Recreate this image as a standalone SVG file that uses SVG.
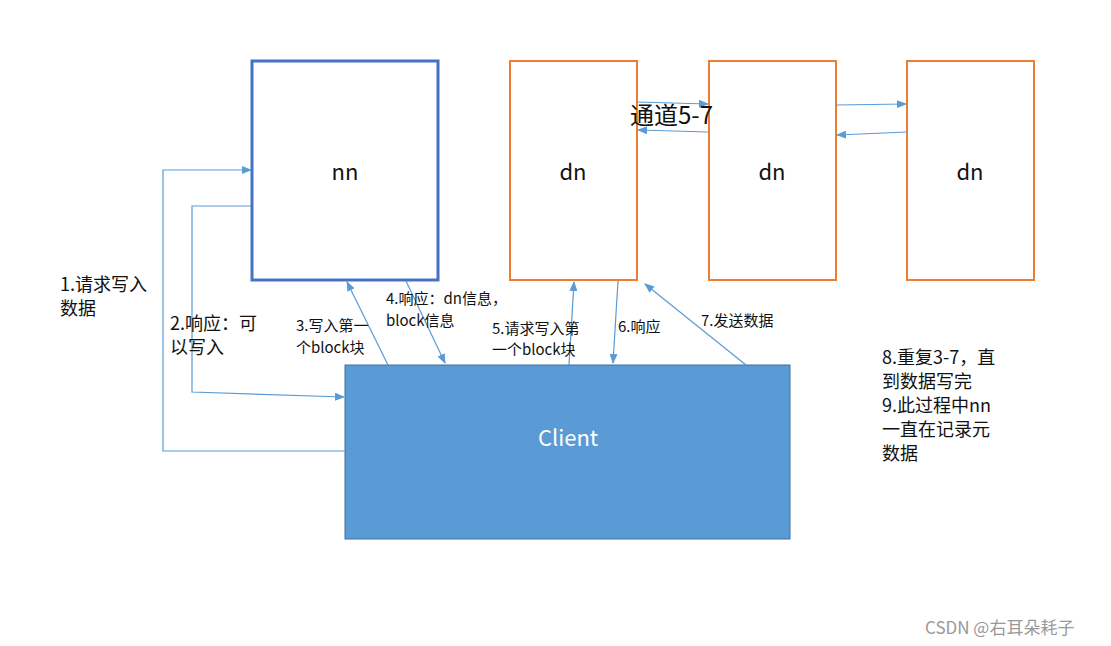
<svg xmlns="http://www.w3.org/2000/svg" width="1111" height="646" viewBox="0 0 1111 646">
<style>
text{font-family:"Noto Sans CJK SC","Noto Sans",sans-serif;fill:#111}
.c{stroke:#5b9bd5;stroke-width:1.2;fill:none;marker-end:url(#a)}
.l{font-size:15px}
.s{font-size:18px}
.dn{fill:#fff;stroke:#ed7d31;stroke-width:2}
</style>
<defs><marker id="a" markerWidth="10" markerHeight="8" refX="9" refY="4" orient="auto" markerUnits="userSpaceOnUse"><path d="M0,0L10,4L0,8z" fill="#5b9bd5"/></marker></defs>
<rect width="1111" height="646" fill="#fff"/>
<g id="nn"><rect x="252" y="61" width="186" height="219" fill="#fff" stroke="#4472c4" stroke-width="3"/><text x="345" y="180" font-size="22" text-anchor="middle">nn</text></g>
<g id="dn1"><rect class="dn" x="510" y="61" width="127" height="219"/><text x="573" y="180" font-size="22" text-anchor="middle">dn</text></g>
<g id="dn2"><rect class="dn" x="709" y="61" width="127" height="219"/><text x="772" y="180" font-size="22" text-anchor="middle">dn</text></g>
<g id="dn3"><rect class="dn" x="907" y="61" width="127" height="219"/><text x="970" y="180" font-size="22" text-anchor="middle">dn</text></g>
<g id="client"><rect x="345" y="365" width="445" height="174" fill="#5b9bd5" stroke="#41719c"/><text x="568" y="446" font-size="22" fill="#fff" style="fill:#fff" text-anchor="middle">Client</text></g>
<g id="connectors">
<path class="c" d="M345,451H163V170H251"/>
<path class="c" d="M251,206H192V392L344,397"/>
<path class="c" d="M388,365L347,282"/>
<path class="c" d="M406,281L445,363"/>
<path class="c" d="M569,365L574,282"/>
<path class="c" d="M618,281L613,363"/>
<path class="c" d="M746,365L645,284"/>
<path class="c" d="M637,102L708,104"/>
<path class="c" d="M708,132L638,130"/>
<path class="c" d="M836,105L906,104"/>
<path class="c" d="M907,132L837,135"/>
</g>
<g id="labels">
<text x="630" y="124" font-size="24">通道5-7</text>
<text class="s" x="60" y="291">1.请求写入</text><text class="s" x="60" y="315">数据</text>
<text class="s" x="170" y="330">2.响应：可</text><text class="s" x="170" y="354">以写入</text>
<text class="l" x="296" y="331">3.写入第一</text><text class="l" x="296" y="353">个block块</text>
<text class="l" x="386" y="304">4.响应：dn信息，</text><text class="l" x="386" y="326">block信息</text>
<text class="l" x="492" y="334">5.请求写入第</text><text class="l" x="492" y="355">一个block块</text>
<text class="l" x="618" y="332">6.响应</text>
<text class="l" x="701" y="326">7.发送数据</text>
<text class="s" x="882" y="364">8.重复3-7，直</text><text class="s" x="882" y="388">到数据写完</text>
<text class="s" x="882" y="412">9.此过程中nn</text><text class="s" x="882" y="436">一直在记录元</text><text class="s" x="882" y="460">数据</text>
<text x="925" y="634" font-size="17" style="fill:#999">CSDN @右耳朵耗子</text>
</g>
</svg>
